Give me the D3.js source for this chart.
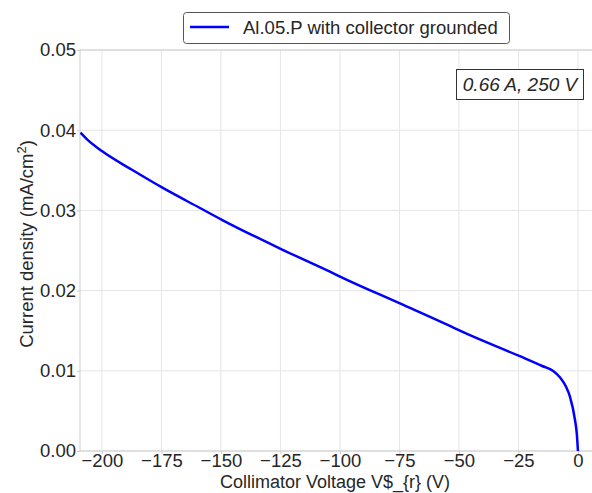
<!DOCTYPE html>
<html><head><meta charset="utf-8">
<script src="https://cdn.jsdelivr.net/npm/d3@7"></script>
<style>
body{margin:0;background:#fff;}
text{font-family:"Liberation Sans",Arial,sans-serif;fill:#262626;}
</style></head><body>
<svg id="c" width="592" height="493"></svg>
<script>
const voltage = [-209, -206, -200, -187, -174.4, -158.8, -149.4, -124.5, -104.2, -99.3, -74.8, -53.8, -49.6, -24.7, -15, -10.4, -7.6, -5, -3.4, -1.26, -0.5, 0];
const current = [0.0397, 0.0388, 0.0374, 0.0350, 0.0328, 0.0303, 0.0288, 0.02515, 0.02236, 0.02166, 0.0184, 0.01559, 0.0150, 0.01185, 0.0106, 0.00998, 0.0092, 0.0080, 0.0068, 0.0039, 0.0022, 0.0];
const xTicks = [-200, -175, -150, -125, -100, -75, -50, -25, 0];
const yTicks = [0.00, 0.01, 0.02, 0.03, 0.04, 0.05];
const seriesName = "Al.05.P with collector grounded";
const annotation = "0.66 A, 250 V";

const FS = 18.5;
const svg = d3.select("#c");
const L = 80, R = 592, T = 50, B = 451;
const x = d3.scaleLinear().domain([-209.2, 5.9]).range([L, R]);
const y = d3.scaleLinear().domain([0, 0.05]).range([B, T]);

// grid
svg.append("g").selectAll("line").data(xTicks).join("line")
  .attr("x1", d => x(d)).attr("x2", d => x(d)).attr("y1", T).attr("y2", B)
  .attr("stroke", "#e5e5e5").attr("stroke-width", 1);
svg.append("g").selectAll("line").data(yTicks).join("line")
  .attr("x1", L).attr("x2", R).attr("y1", d => y(d)).attr("y2", d => y(d))
  .attr("stroke", "#e5e5e5").attr("stroke-width", 1);

// spines
svg.append("line").attr("x1", L).attr("x2", L).attr("y1", T).attr("y2", B).attr("stroke", "#cccccc");
svg.append("line").attr("x1", L).attr("x2", R).attr("y1", B).attr("y2", B).attr("stroke", "#cccccc");
svg.append("line").attr("x1", L).attr("x2", R).attr("y1", T).attr("y2", T).attr("stroke", "#cccccc");

// axes
const xAxis = d3.axisBottom(x).tickValues(xTicks).tickFormat(d3.format("d")).tickSize(3).tickPadding(0);
const gx = svg.append("g").attr("transform", `translate(0,${B})`).call(xAxis);
const yAxis = d3.axisLeft(y).tickValues(yTicks).tickFormat(d3.format(".2f")).tickSize(3).tickPadding(1);
const gy = svg.append("g").attr("transform", `translate(${L},0)`).call(yAxis);
[gx, gy].forEach(g => {
  g.select(".domain").remove();
  g.selectAll(".tick line").attr("stroke", "#cccccc");
  g.selectAll(".tick text").attr("font-size", FS).attr("fill", "#262626")
    .attr("font-family", "'Liberation Sans', Arial, sans-serif");
});

// line
const line = d3.line().x((d, i) => x(voltage[i])).y((d, i) => y(current[i])).curve(d3.curveMonotoneX);
svg.append("path").datum(current).attr("d", line)
  .attr("fill", "none").attr("stroke", "#0000ff").attr("stroke-width", 2.5);

// axis labels
svg.append("text").attr("x", 335).attr("y", 487.5).attr("text-anchor", "middle")
  .attr("font-size", 18).text("Collimator Voltage V$_{r} (V)");
const yl = svg.append("text").attr("transform", "translate(33,244) rotate(-90)")
  .attr("text-anchor", "middle").attr("font-size", FS);
yl.append("tspan").text("Current density (mA/cm");
yl.append("tspan").attr("dy", -7).attr("font-size", 13).text("2");
yl.append("tspan").attr("dy", 7).text(")");

// legend
svg.append("rect").attr("x", 183.5).attr("y", 12.5).attr("width", 326).attr("height", 31)
  .attr("rx", 3).attr("fill", "#fff").attr("stroke", "#555").attr("stroke-width", 1);
svg.append("line").attr("x1", 190).attr("x2", 229).attr("y1", 27).attr("y2", 27)
  .attr("stroke", "#0000ff").attr("stroke-width", 2.5);
svg.append("text").attr("x", 243).attr("y", 34).attr("font-size", FS).text(seriesName);

// annotation
svg.append("rect").attr("x", 456.5).attr("y", 69.5).attr("width", 127).attr("height", 30)
  .attr("fill", "#fff").attr("stroke", "#333").attr("stroke-width", 1);
svg.append("text").attr("x", 520).attr("y", 91).attr("text-anchor", "middle")
  .attr("font-size", 19).attr("font-style", "italic").text(annotation);
</script></body></html>
